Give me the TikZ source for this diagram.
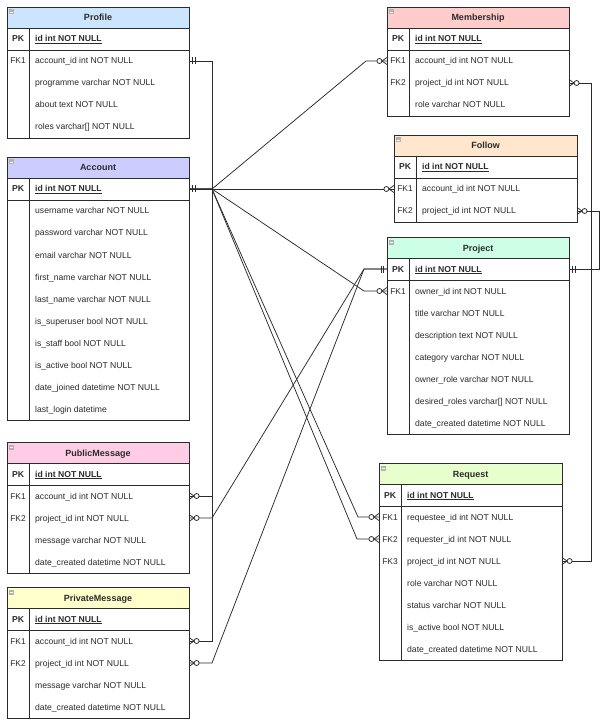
\documentclass[tikz,border=0pt]{standalone}
\usepackage{fontspec}
\setmainfont{Liberation Sans}
\definecolor{cProfile}{HTML}{CCE5FF}
\definecolor{cAccount}{HTML}{CCCCFF}
\definecolor{cMember}{HTML}{FFCCCC}
\definecolor{cFollow}{HTML}{FFE6CC}
\definecolor{cProject}{HTML}{CCFFE6}
\definecolor{cRequest}{HTML}{E6FFCC}
\definecolor{cPub}{HTML}{FFCCE6}
\definecolor{cPriv}{HTML}{FFFFCC}
\definecolor{ink}{HTML}{2B2B2B}
\tikzset{
  tbl/.style={draw=ink, line width=0.9pt},
  conn/.style={draw=ink, line width=0.75pt},
  ttl/.style={font=\fontsize{9}{10}\selectfont\bfseries, text=ink, inner sep=0pt, anchor=base},
  keyl/.style={font=\fontsize{8.4}{10}\selectfont, text=ink, inner sep=0pt, anchor=base},
  fld/.style={font=\fontsize{8.6}{10}\selectfont, text=ink, inner sep=0pt, anchor=base west},
  zmR/.pic={\draw[conn] (0,-3.5) -- (5,0) -- (0,3.5); \draw[conn, fill=white] (7.6,0) circle (2.5);},
  zmL/.pic={\draw[conn] (0,-3.5) -- (-5,0) -- (0,3.5); \draw[conn, fill=white] (-7.6,0) circle (2.5);},
  moR/.pic={\draw[conn] (3.5,-3.5) -- (3.5,3.5) (6,-3.5) -- (6,3.5);},
  moL/.pic={\draw[conn] (-3.5,-3.5) -- (-3.5,3.5) (-6,-3.5) -- (-6,3.5);},
}
% id, left, top, right, nfields, colour, title
\newcommand{\ertable}[7]{%
  \fill[#6] (#2,#3) rectangle (#4,#3+21);
  \draw[tbl] (#2,#3+21) -- (#4,#3+21);
  \draw[tbl] (#2,#3+43) -- (#4,#3+43);
  \draw[tbl] (#2+22,#3+21) -- (#2+22,{#3+43+22*#5});
  \draw[tbl] (#2,#3) rectangle (#4,{#3+43+22*#5});
  \fill[gray!60] (#2+1.5,#3+2.5) rectangle (#2+6.5,#3+7.5);
  \draw[white, line width=0.6pt] (#2+2.5,#3+5) -- (#2+5.5,#3+5);
  \node[ttl] (#1) at ({(#2+#4)/2},#3+14) {#7};
  \node[keyl, font=\fontsize{8.6}{10}\selectfont\bfseries] (#1-pkk) at (#2+11,#3+35) {PK};
  \node[fld, font=\fontsize{8.6}{10}\selectfont\bfseries] (#1-pk) at (#2+28,#3+35) {\underline{id int NOT NULL}};
}
% name, left, top, row, key, text
\newcommand{\erfield}[6]{%
  \node[keyl] (#1-k) at (#2+11,{#3+35+22*#4}) {#5};
  \node[fld] (#1) at (#2+28,{#3+35+22*#4}) {#6};
}
\begin{document}
\begin{tikzpicture}[x=1pt, y=-1pt]
\fill[white] (0,0) rectangle (602,727);
\useasboundingbox (0,0) rectangle (602,727);

% ---------- tables ----------
\ertable{prof}{7}{7}{189}{4}{cProfile}{Profile}
\erfield{prof-f1}{7}{7}{1}{FK1}{account\_id int NOT NULL}
\erfield{prof-f2}{7}{7}{2}{}{programme varchar NOT NULL}
\erfield{prof-f3}{7}{7}{3}{}{about text NOT NULL}
\erfield{prof-f4}{7}{7}{4}{}{roles varchar[] NOT NULL}

\ertable{acc}{7}{157}{189}{10}{cAccount}{Account}
\erfield{acc-f1}{7}{157}{1}{}{username varchar NOT NULL}
\erfield{acc-f2}{7}{157}{2}{}{password varchar NOT NULL}
\erfield{acc-f3}{7}{157}{3}{}{email varchar NOT NULL}
\erfield{acc-f4}{7}{157}{4}{}{first\_name varchar NOT NULL}
\erfield{acc-f5}{7}{157}{5}{}{last\_name varchar NOT NULL}
\erfield{acc-f6}{7}{157}{6}{}{is\_superuser bool NOT NULL}
\erfield{acc-f7}{7}{157}{7}{}{is\_staff bool NOT NULL}
\erfield{acc-f8}{7}{157}{8}{}{is\_active bool NOT NULL}
\erfield{acc-f9}{7}{157}{9}{}{date\_joined datetime NOT NULL}
\erfield{acc-f10}{7}{157}{10}{}{last\_login datetime}

\ertable{pub}{7}{442}{189}{4}{cPub}{PublicMessage}
\erfield{pub-f1}{7}{442}{1}{FK1}{account\_id int NOT NULL}
\erfield{pub-f2}{7}{442}{2}{FK2}{project\_id int NOT NULL}
\erfield{pub-f3}{7}{442}{3}{}{message varchar NOT NULL}
\erfield{pub-f4}{7}{442}{4}{}{date\_created datetime NOT NULL}

\ertable{priv}{7}{587}{189}{4}{cPriv}{PrivateMessage}
\erfield{priv-f1}{7}{587}{1}{FK1}{account\_id int NOT NULL}
\erfield{priv-f2}{7}{587}{2}{FK2}{project\_id int NOT NULL}
\erfield{priv-f3}{7}{587}{3}{}{message varchar NOT NULL}
\erfield{priv-f4}{7}{587}{4}{}{date\_created datetime NOT NULL}

\ertable{mem}{387}{7}{569}{3}{cMember}{Membership}
\erfield{mem-f1}{387}{7}{1}{FK1}{account\_id int NOT NULL}
\erfield{mem-f2}{387}{7}{2}{FK2}{project\_id int NOT NULL}
\erfield{mem-f3}{387}{7}{3}{}{role varchar NOT NULL}

\ertable{fol}{394}{135}{577}{2}{cFollow}{Follow}
\erfield{fol-f1}{394}{135}{1}{FK1}{account\_id int NOT NULL}
\erfield{fol-f2}{394}{135}{2}{FK2}{project\_id int NOT NULL}

\ertable{proj}{387}{237}{569}{7}{cProject}{Project}
\erfield{proj-f1}{387}{237}{1}{FK1}{owner\_id int NOT NULL}
\erfield{proj-f2}{387}{237}{2}{}{title varchar NOT NULL}
\erfield{proj-f3}{387}{237}{3}{}{description text NOT NULL}
\erfield{proj-f4}{387}{237}{4}{}{category varchar NOT NULL}
\erfield{proj-f5}{387}{237}{5}{}{owner\_role varchar NOT NULL}
\erfield{proj-f6}{387}{237}{6}{}{desired\_roles varchar[] NOT NULL}
\erfield{proj-f7}{387}{237}{7}{}{date\_created datetime NOT NULL}

\ertable{req}{379}{463}{562}{7}{cRequest}{Request}
\erfield{req-f1}{379}{463}{1}{FK1}{requestee\_id int NOT NULL}
\erfield{req-f2}{379}{463}{2}{FK2}{requester\_id int NOT NULL}
\erfield{req-f3}{379}{463}{3}{FK3}{project\_id int NOT NULL}
\erfield{req-f4}{379}{463}{4}{}{role varchar NOT NULL}
\erfield{req-f5}{379}{463}{5}{}{status varchar NOT NULL}
\erfield{req-f6}{379}{463}{6}{}{is\_active bool NOT NULL}
\erfield{req-f7}{379}{463}{7}{}{date\_created datetime NOT NULL}

% ---------- connection points ----------
\coordinate (prof-fk1) at (189,61);
\coordinate (acc-pk) at (189,189);
\coordinate (acc-j) at (212,189);
\coordinate (pub-fk1) at (189,496);
\coordinate (pub-fk2) at (189,518);
\coordinate (priv-fk1) at (189,641);
\coordinate (priv-fk2) at (189,663);
\coordinate (mem-fk1) at (387,61);
\coordinate (mem-fk2) at (569,83);
\coordinate (fol-fk1) at (394,189);
\coordinate (fol-fk2) at (577,211);
\coordinate (proj-pkl) at (387,269);
\coordinate (proj-pkr) at (569,269);
\coordinate (proj-fk1) at (387,291);
\coordinate (req-fk1) at (379,517);
\coordinate (req-fk2) at (379,539);
\coordinate (req-fk3) at (562,561);
\coordinate (proj-j) at (364,269);
\coordinate (proj-jr) at (591,269);
\coordinate (proj-jr2) at (599,269);

% ---------- connectors ----------
\draw[conn] (prof-fk1) -| (acc-j) -- (acc-pk);
\draw[conn] (pub-fk1) -| (acc-j) -- (acc-pk);
\draw[conn] (priv-fk1) -| (acc-j) -- (acc-pk);
\draw[conn] (mem-fk1) -- ++(-21,0) -- (acc-j) -- (acc-pk);
\draw[conn] (fol-fk1) -- (acc-pk);
\draw[conn] (proj-fk1) -- ++(-23,0) -- (acc-j) -- (acc-pk);
\draw[conn] (req-fk1) -- ++(-21,0) -- (acc-j) -- (acc-pk);
\draw[conn] (req-fk2) -- ++(-22,0) -- (acc-j) -- (acc-pk);
\draw[conn] (pub-fk2) -- ++(23,0) -- (proj-j) -- (proj-pkl);
\draw[conn] (priv-fk2) -- ++(23,0) -- (proj-j) -- (proj-pkl);
\draw[conn] (mem-fk2) -| (proj-jr) -- (proj-pkr);
\draw[conn] (fol-fk2) -| (proj-jr2) -- (proj-pkr);
\draw[conn] (req-fk3) -| (proj-jr) -- (proj-pkr);

% ---------- cardinality marks ----------
\pic at (prof-fk1) {moR};
\pic[line width=1.2pt] at (acc-pk) {moR};
\pic at (pub-fk1) {zmR};
\pic at (pub-fk2) {zmR};
\pic at (priv-fk1) {zmR};
\pic at (priv-fk2) {zmR};
\pic at (mem-fk1) {zmL};
\pic at (mem-fk2) {zmR};
\pic at (fol-fk1) {zmL};
\pic at (fol-fk2) {zmR};
\pic at (proj-fk1) {zmL};
\pic at (proj-pkl) {moL};
\pic at (proj-pkr) {moR};
\pic at (req-fk1) {zmL};
\pic at (req-fk2) {zmL};
\pic at (req-fk3) {zmR};
\end{tikzpicture}
\end{document}
